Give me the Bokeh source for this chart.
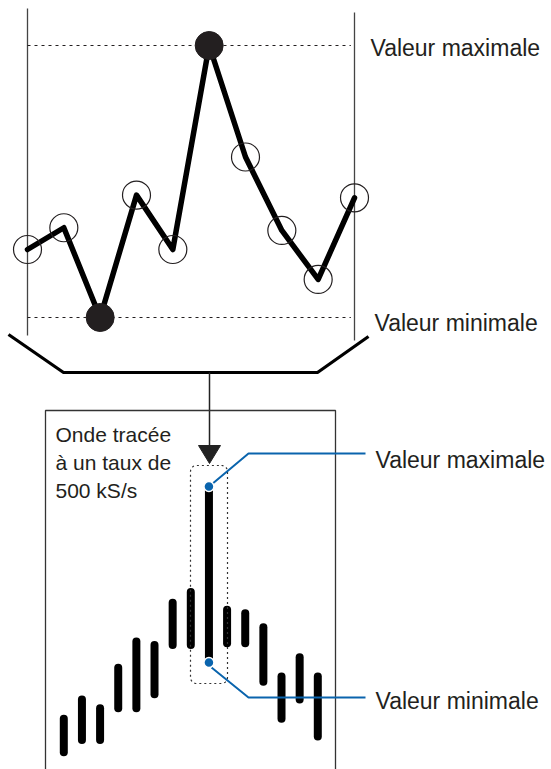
import numpy as np
from bokeh.plotting import figure
from bokeh.models import Range1d
from bokeh.core.properties import value
from bokeh.embed import file_html
from bokeh.resources import INLINE

# ---------------- data ----------------
# top: raw samples (amplitude, 0 = minimum, 100 = maximum)
top_samples = [25, 33, 0, 45, 25, 100, 59, 32, 14, 44]
# bottom: min/max envelope drawn at 500 kS/s (same amplitude units)
bar_max = [-32, -21, -26, -3, 12, 10, 34, 40, 100, 30, 28, 20, -8, 3, -8]
bar_min = [-51, -44, -44, -26, -26, -18, 10, 10, 0, 11, 11, -11, -32, -21, -42]

label_max = "Valeur maximale"
label_min = "Valeur minimale"
box_text = ["Onde tracée", "à un taux de", "500 kS/s"]

FONT = value("Liberation Sans")
INK = "#231f20"
BLUE = "#0a64ad"

W, H = 551, 769
PX_L, PX_R, PX_T, PX_B = 0, W, 0, H


def anchored(v0, p0, v1, p1, lo, hi):
    s = (p1 - p0) / (v1 - v0)
    return Range1d(v0 + (lo - p0) / s, v0 + (hi - p0) / s)


p = figure(width=W, height=H, output_backend="svg", toolbar_location=None,
           x_range=Range1d(PX_L, PX_R), y_range=Range1d(PX_B, PX_T),
           min_border=0, outline_line_color=None)
p.axis.visible = False
p.grid.visible = False
p.background_fill_color = "white"
p.border_fill_color = "white"

p.extra_x_ranges = {
    "tx": anchored(0, 27, 9, 354, PX_L, PX_R),
    "bx": anchored(0, 63.3, 14, 317.3, PX_L, PX_R),
}
p.extra_y_ranges = {
    "ty": anchored(0, 317, 100, 45, PX_B, PX_T),
    "by": anchored(0, 662, 100, 486, PX_B, PX_T),
}

# ---------------- top panel ----------------
n = len(top_samples)
idx = list(range(n))
i_max = int(np.argmax(top_samples))
i_min = int(np.argmin(top_samples))

# frame verticals
p.segment(x0=[27, 354], y0=[8, 12], x1=[27, 354], y1=[335, 340],
          line_color="#444444", line_width=1.3)

# dashed max/min levels
p.segment(x0=[0, 0], x1=[n - 1 - 0.1, n - 1 - 0.1],
          y0=[max(top_samples), min(top_samples)],
          y1=[max(top_samples), min(top_samples)],
          x_range_name="tx", y_range_name="ty",
          line_color=INK, line_width=1, line_dash="3 4")

p.line(idx, top_samples, x_range_name="tx", y_range_name="ty",
       line_color="black", line_width=5.5, line_join="round", line_cap="round")

open_i = [i for i in idx if i not in (i_max, i_min)]
p.scatter([i for i in open_i], [top_samples[i] for i in open_i],
          x_range_name="tx", y_range_name="ty", size=28,
          fill_color=None, line_color=INK, line_width=1.2)
p.scatter([i_max, i_min], [top_samples[i_max], top_samples[i_min]],
          x_range_name="tx", y_range_name="ty", size=28,
          fill_color=INK, line_color=INK)

p.text(x=[370, 374], y=[47, 322], text=[label_max, label_min],
       text_font=FONT, text_font_size="23px", text_color=INK,
       text_baseline="alphabetic", text_align="left")

# funnel
p.line([8, 63, 317, 368], [334, 372, 372, 336], line_color="black", line_width=3.2)

# arrow
p.segment(x0=[209], y0=[372], x1=[209], y1=[447], line_color="#222222", line_width=1.5)
p.patch([198, 220, 209], [445, 445, 463], fill_color="#222222", line_color="#222222")

# ---------------- bottom panel ----------------
p.line([45, 45, 335, 335], [775, 410, 410, 775], line_color="#333333", line_width=1.3)

p.text(x=[55, 55, 55], y=[434, 462, 490], text=box_text,
       text_font=FONT, text_font_size="21px", text_color=INK,
       text_baseline="alphabetic", text_align="left")

nb = len(bar_max)
bidx = list(range(nb))
p.segment(x0=bidx, y0=bar_min, x1=bidx, y1=bar_max,
          x_range_name="bx", y_range_name="by",
          line_color="black", line_width=8, line_cap="round")

# dotted rounded box around the tallest bar
x0b, x1b, y0b, y1b, r = 190, 227, 465, 683, 6
th = np.linspace(0, np.pi / 2, 8)
rx, ry = [], []
for cx, cy, a0 in [(x1b - r, y0b + r, -np.pi / 2), (x1b - r, y1b - r, 0),
                   (x0b + r, y1b - r, np.pi / 2), (x0b + r, y0b + r, np.pi)]:
    rx += list(cx + r * np.cos(a0 + th))
    ry += list(cy + r * np.sin(a0 + th))
rx.append(rx[0]); ry.append(ry[0])
p.line(rx, ry, line_color="#333333", line_width=1.2, line_dash="2 3")

# blue leaders
ib = int(np.argmax(np.array(bar_max) - np.array(bar_min)))
p.line([211, 248, 365], [484, 453, 453], line_color=BLUE, line_width=2)
p.line([211, 248, 365], [667, 697, 697], line_color=BLUE, line_width=2)
p.scatter([ib, ib], [bar_max[ib], bar_min[ib]], x_range_name="bx", y_range_name="by",
          size=10, fill_color=BLUE, line_color="white", line_width=1.5)

p.text(x=[375, 375], y=[459, 700], text=[label_max, label_min],
       text_font=FONT, text_font_size="23px", text_color=INK,
       text_baseline="alphabetic", text_align="left")

open("out.html", "w").write(file_html(p, INLINE))
